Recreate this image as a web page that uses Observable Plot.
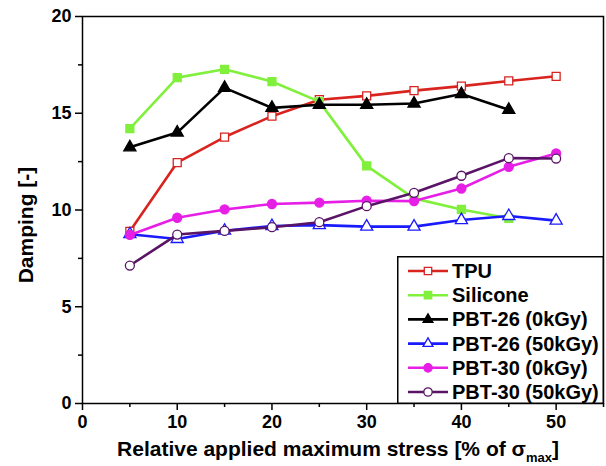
<!DOCTYPE html>
<html><head><meta charset="utf-8">
<script src="https://cdn.jsdelivr.net/npm/d3@7"></script>
<script src="https://cdn.jsdelivr.net/npm/@observablehq/plot@0.6"></script>
<style>
body{margin:0;background:#fff;font-family:"Liberation Sans",Arial,sans-serif;}
#wrap{position:relative;width:606px;height:466px;}
#legend{position:absolute;left:397px;top:256px;}
</style></head><body><div id="wrap"></div>
<script>
const stress = [5, 10, 15, 20, 25, 30, 35, 40, 45, 50];
const tpu = [8.9, 12.45, 13.77, 14.85, 15.7, 15.9, 16.17, 16.4, 16.67, 16.91];
const silicone = [14.2, 16.84, 17.27, 16.64, 15.6, 12.28, 10.6, 10.03, 9.57];
const pbt26_0 = [13.24, 14.0, 16.31, 15.28, 15.44, 15.44, 15.5, 15.99, 15.18];
const pbt26_50 = [8.75, 8.5, 8.93, 9.17, 9.22, 9.14, 9.14, 9.48, 9.69, 9.45];
const pbt30_0 = [8.71, 9.6, 10.03, 10.31, 10.38, 10.48, 10.46, 11.11, 12.23, 12.92];
const pbt30_50 = [7.13, 8.73, 8.92, 9.11, 9.37, 10.2, 10.89, 11.77, 12.68, 12.66];
const seriesNames = ["TPU", "Silicone", "PBT-26 (0kGy)", "PBT-26 (50kGy)", "PBT-30 (0kGy)", "PBT-30 (50kGy)"];
const seriesValues = [tpu, silicone, pbt26_0, pbt26_50, pbt30_0, pbt30_50];
const seriesColors = ["#d8231f", "#80f03c", "#000000", "#1a1aff", "#e61ee6", "#5a1466"];
const seriesSymbols = ["square", "square", "triangle", "triangle", "circle", "circle"];
const seriesOpen = [true, false, false, true, false, true];
const xTicks = [0, 10, 20, 30, 40, 50];
const xMinor = [5, 15, 25, 35, 45, 55];
const yTicks = [0, 5, 10, 15, 20];
const yMinor = [2.5, 7.5, 12.5, 17.5];

const series = seriesNames.map((name, i) => ({
  name, color: seriesColors[i], symbol: seriesSymbols[i], open: seriesOpen[i],
  rows: seriesValues[i].map((v, j) => ({x: stress[j], y: v}))
}));

const marks = [
  Plot.axisX({ticks: xTicks, tickSize: 7, tickPadding: 5, label: null, strokeWidth: 1.5, fontSize: 18}),
  Plot.axisX({ticks: xMinor, tickSize: 4, text: null, label: null, strokeWidth: 1.5}),
  Plot.axisY({ticks: yTicks, tickSize: 7, tickPadding: 4, label: null, strokeWidth: 1.5, fontSize: 18}),
  Plot.axisY({ticks: yMinor, tickSize: 4, text: null, label: null, strokeWidth: 1.5})
];
for (const s of series) {
  marks.push(Plot.line(s.rows, {x: "x", y: "y", stroke: s.color, strokeWidth: 2.6}));
  marks.push(Plot.dot(s.rows, {x: "x", y: "y", symbol: () => s.symbol, r: 4.5,
    stroke: s.color, strokeWidth: 1.3, fill: s.open ? "white" : s.color}));
}
marks.push(Plot.frame({strokeWidth: 1.5}));

const chart = Plot.plot({
  width: 606, height: 466,
  marginLeft: 82, marginRight: 3, marginTop: 16, marginBottom: 63,
  style: {fontFamily: "'Liberation Sans', Arial, sans-serif", fontWeight: "bold", color: "#000", background: "white", overflow: "visible"},
  x: {domain: [0, 55]},
  y: {domain: [0, 20]},
  symbol: {type: "identity"},
  marks
});
document.getElementById("wrap").appendChild(chart);

const svg = d3.select(chart);
svg.append("text").attr("transform", "translate(33,225) rotate(-90)")
  .attr("text-anchor", "middle").attr("font-size", 21).attr("font-weight", "bold")
  .text("Damping [-]");
const xl = svg.append("text").attr("x", 338).attr("y", 456)
  .attr("text-anchor", "middle").attr("font-size", 21).attr("font-weight", "bold");
xl.append("tspan").text("Relative applied maximum stress [% of \u03c3");
xl.append("tspan").attr("font-size", 13).attr("dy", 6).text("max");
xl.append("tspan").attr("dy", -6).text("]");

// legend
const lg = d3.select("#wrap").append("svg").attr("id", "legend").attr("width", 207).attr("height", 148);
lg.append("rect").attr("x", 0.75).attr("y", 0.75).attr("width", 205.5).attr("height", 146.5)
  .attr("fill", "white").attr("stroke", "#000").attr("stroke-width", 1.5);
series.forEach((s, i) => {
  const cy = 15 + i * 24.2;
  const g = lg.append("g");
  g.append("line").attr("x1", 11).attr("x2", 51).attr("y1", cy).attr("y2", cy)
    .attr("stroke", s.color).attr("stroke-width", 2.6);
  const sym = s.symbol === "square" ? d3.symbolSquare : s.symbol === "triangle" ? d3.symbolTriangle : d3.symbolCircle;
  g.append("path").attr("transform", `translate(31,${cy})`)
    .attr("d", d3.symbol(sym, s.symbol === "triangle" ? 42 : 55)())
    .attr("fill", s.open ? "white" : s.color).attr("stroke", s.color).attr("stroke-width", 1.3);
  g.append("text").attr("x", 55).attr("y", cy + 7).attr("font-size", 20).attr("font-weight", "bold")
    .attr("font-family", "'Liberation Sans', Arial, sans-serif").text(s.name);
});
</script></body></html>
